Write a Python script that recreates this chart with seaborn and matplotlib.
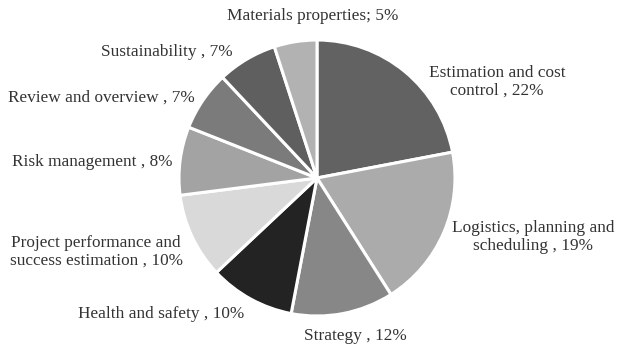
import matplotlib
matplotlib.use("Agg")
import matplotlib.pyplot as plt
import seaborn as sns

categories = ["Estimation and cost\ncontrol", "Logistics, planning and\nscheduling", "Strategy",
              "Health and safety", "Project performance and\nsuccess estimation", "Risk management",
              "Review and overview", "Sustainability", "Materials properties"]
values = [22, 19, 12, 10, 10, 8, 7, 7, 5]
separators = [" , ", " , ", " , ", " , ", " , ", " , ", " , ", " , ", "; "]
colors = ["#626262", "#ababab", "#878787", "#232323", "#d9d9d9", "#a3a3a3", "#7b7b7b", "#5f5f5f", "#b2b2b2"]

# label centres in pixel coordinates (x, y from top)
label_pos = [(497, 82), (533, 237), (355, 336), (161, 314), (96, 252), (92, 162), (101, 98), (167, 52), (313, 16)]

sns.set_style("white")
plt.rcParams['font.family'] = ['Liberation Serif', 'DejaVu Serif']

W, H = 620, 346
fig = plt.figure(figsize=(6.2, 3.46), dpi=100)
ax = fig.add_axes([0, 0, 1, 1])

ax.pie(values, colors=colors, startangle=90, counterclock=False,
       center=(317, H - 178), radius=138,
       wedgeprops=dict(edgecolor="white", linewidth=2.2))
ax.set_xlim(0, W)
ax.set_ylim(0, H)
ax.set_aspect("equal")
ax.axis("off")

for cat, v, sep, (x, y) in zip(categories, values, separators, label_pos):
    ax.text(x, H - y, f"{cat}{sep}{v}%", ha="center", va="center",
            fontsize=12.4, color="#333333", linespacing=1.12)

fig.savefig("out.png", dpi=100, facecolor="white")
